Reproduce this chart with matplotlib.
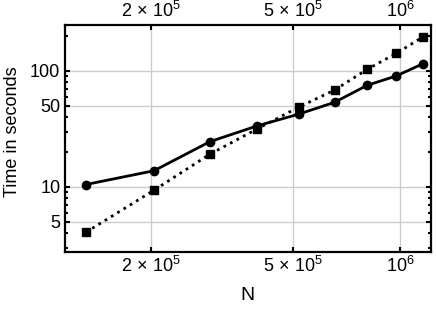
import matplotlib
matplotlib.use("Agg")
import matplotlib.pyplot as plt
from matplotlib.ticker import FixedLocator, FixedFormatter, LogLocator, NullFormatter, NullLocator

plt.rcParams['font.family'] = ['Liberation Sans', 'DejaVu Sans']
plt.rcParams['mathtext.fontset'] = 'custom'
plt.rcParams['mathtext.rm'] = 'Liberation Sans'
plt.rcParams['mathtext.it'] = 'Liberation Sans'

# data
n_values = [1.315e5, 2.04e5, 2.93e5, 3.97e5, 5.19e5, 6.55e5, 8.09e5, 9.76e5, 1.163e6]
time_circles = [10.5, 13.8, 24.6, 33.6, 42.4, 53.7, 75.3, 90.6, 116]
time_squares = [4.07, 9.37, 19.2, 31.6, 48.7, 68.5, 103.4, 142, 198]

x_ticks = [2e5, 5e5, 1e6]
x_tick_labels = [r'$2\,\times\,10^5$', r'$5\,\times\,10^5$', r'$10^6$']
y_ticks = [5, 10, 50, 100]
y_tick_labels = ['5', '10', '50', '100']

fig = plt.figure(figsize=(4.36, 3.09), dpi=100)
ax = fig.add_axes([0.148, 0.1845, 0.8405, 0.7345])

ax.plot(n_values, time_circles, '-', color='black', lw=2, marker='o', markersize=6)
ax.plot(n_values, time_squares, ':', color='black', lw=2, marker='s', markersize=5.5)

ax.set_xscale('log')
ax.set_yscale('log')
ax.set_xlim(1.145e5, 1.221e6)
ax.set_ylim(2.75, 249)

ax.xaxis.set_major_locator(FixedLocator(x_ticks))
ax.xaxis.set_major_formatter(FixedFormatter(x_tick_labels))
ax.xaxis.set_minor_locator(NullLocator())
ax.yaxis.set_major_locator(FixedLocator(y_ticks))
ax.yaxis.set_major_formatter(FixedFormatter(y_tick_labels))
ax.yaxis.set_minor_locator(LogLocator(base=10, subs=range(2, 10)))
ax.yaxis.set_minor_formatter(NullFormatter())

ax.grid(True, which='major', color='#cccccc', lw=1)
ax.set_axisbelow(True)

for s in ax.spines.values():
    s.set_linewidth(1.6)

ax.tick_params(which='both', direction='in', top=True, right=True,
               labeltop=True, labelsize=13, width=1.5, colors='black')
ax.tick_params(which='major', length=3.5, pad=3)
ax.tick_params(which='minor', length=2)

ax.set_xlabel('N', fontsize=14, labelpad=8)
ax.set_ylabel('Time in seconds', fontsize=13, labelpad=4)
ax.yaxis.set_label_coords(-0.118, 0.53)

fig.savefig('out.png', dpi=100)
